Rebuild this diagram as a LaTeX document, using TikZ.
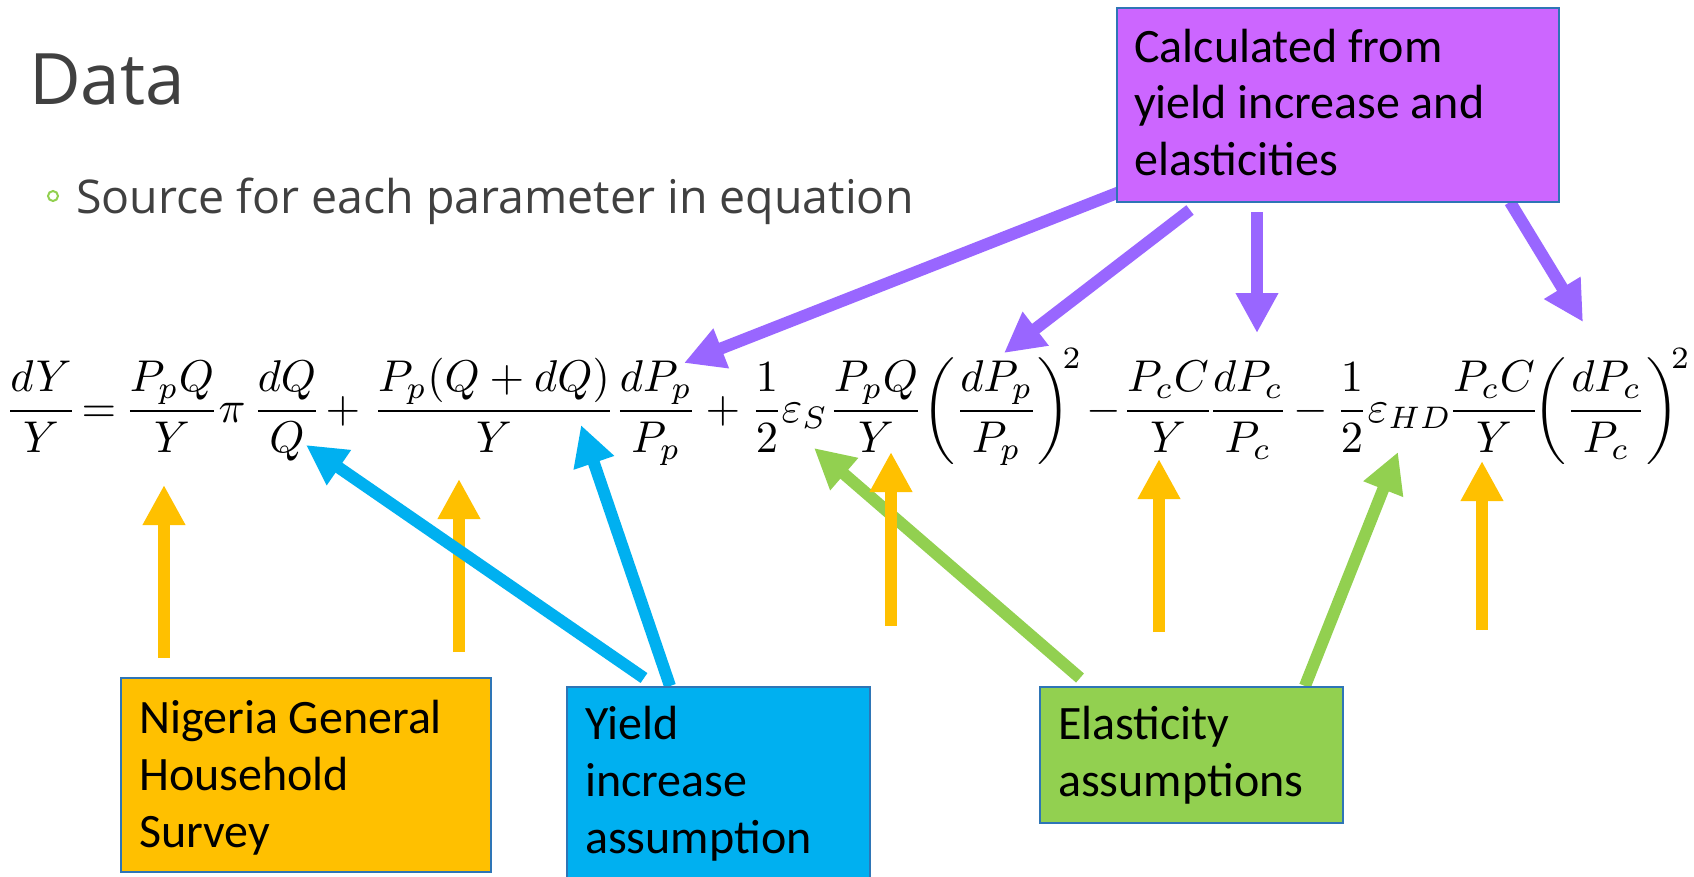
\documentclass[tikz,border=0pt]{standalone}
\usepackage{amsmath}
\usepackage{fontspec}
\newfontfamily\boxfont{Carlito}
\newfontfamily\slidefont{Open Sans}
\usetikzlibrary{arrows.meta}
\definecolor{orng}{RGB}{255,192,0}
\definecolor{cyanb}{RGB}{0,176,240}
\definecolor{grn}{RGB}{146,208,80}
\definecolor{purpfill}{RGB}{204,102,255}
\definecolor{purparr}{RGB}{153,102,255}
\definecolor{boxline}{RGB}{46,117,182}
\definecolor{slidegray}{RGB}{64,64,64}
\newcommand{\eqbig}[1]{\scalebox{4.45}{$\displaystyle #1$}}
\tikzset{
  eq/.style={anchor=base, inner sep=0pt},
  srcbox/.style={draw=boxline, line width=1.5pt, rectangle, inner sep=0pt, anchor=north west},
  boxtext/.style={anchor=base west, inner sep=0pt, font=\boxfont\fontsize{48}{57}\selectfont, text=black},
  fatarrow/.style={line width=12pt, -{Triangle[width=40pt,length=40pt]}},
}
\begin{document}
\begin{tikzpicture}[x=1pt,y=-1pt]
\useasboundingbox (0,0) rectangle (1694,876);
\fill[white] (0,0) rectangle (1694,876);

% title and bullet
\node[anchor=base west, inner sep=0pt, font=\slidefont\fontsize{71}{84}\selectfont, text=slidegray] (title) at (29,104) {Data};
\node[circle, draw=grn, line width=2pt, minimum size=10pt, inner sep=0pt] (bullet) at (53,196) {};
\node[anchor=base west, inner sep=0pt, font=\slidefont\fontsize{46.5}{56}\selectfont, text=slidegray] (subtitle) at (76,213) {Source for each parameter in equation};

% equation
\node[eq] (t0) at (41,422) {\eqbig{\frac{dY}{Y}}};
\node[eq] (eqsign) at (99,422) {\eqbig{=}};
\node[eq] (t1) at (172,422) {\eqbig{\frac{P_pQ}{Y}}};
\node[eq] (pi) at (232,422) {\eqbig{\pi}};
\node[eq] (t2) at (287,422) {\eqbig{\frac{dQ}{Q}}};
\node[eq] (plusA) at (343,422) {\eqbig{+}};
\node[eq] (t3) at (494,422) {\eqbig{\frac{P_p(Q+dQ)}{Y}}};
\node[eq] (t4) at (656,422) {\eqbig{\frac{dP_p}{P_p}}};
\node[eq] (plusB) at (723,422) {\eqbig{+}};
\node[eq] (halfA) at (767,422) {\eqbig{\frac{1}{2}}};
\node[eq] (epsS) at (805,422) {\eqbig{\varepsilon_S}};
\node[eq] (t5) at (876,422) {\eqbig{\frac{P_pQ}{Y}}};
\node[eq, anchor=base west] (t6) at (922,422) {\eqbig{\left(\frac{dP_p}{P_p}\right)^{\mkern-4mu 2}}};
\node[eq] (minusA) at (1104,422) {\eqbig{-}};
\node[eq] (t7) at (1168,422) {\eqbig{\frac{P_cC}{Y}}};
\node[eq] (t8) at (1248,422) {\eqbig{\frac{dP_c}{P_c}}};
\node[eq] (minusB) at (1311,422) {\eqbig{-}};
\node[eq] (halfB) at (1352,422) {\eqbig{\frac{1}{2}}};
\node[eq] (epsHD) at (1410,422) {\eqbig{\varepsilon_{HD}}};
\node[eq] (t9) at (1494,422) {\eqbig{\frac{P_cC}{Y}}};
\node[eq, anchor=base west] (t10) at (1533,422) {\eqbig{\left(\frac{dP_c}{P_c}\right)^{\mkern-4mu 2}}};

% arrow end points
\coordinate (a1s) at (164,658); \coordinate (a1t) at (164,485);
\coordinate (a2s) at (459,652); \coordinate (a2t) at (459,479);
\coordinate (a3s) at (891,626); \coordinate (a3t) at (891,452);
\coordinate (a4s) at (1159,632); \coordinate (a4t) at (1159,459);
\coordinate (a5s) at (1482,630); \coordinate (a5t) at (1482,461);
\coordinate (b1s) at (644,678); \coordinate (b1t) at (306,445);
\coordinate (b2s) at (670,686); \coordinate (b2t) at (581,425);
\coordinate (g1s) at (1080,678); \coordinate (g1t) at (814,448);
\coordinate (g2s) at (1305,686); \coordinate (g2t) at (1398,452);
\coordinate (p1s) at (1140,184); \coordinate (p1t) at (684,363);
\coordinate (p2s) at (1190,210); \coordinate (p2t) at (1004,353);
\coordinate (p3s) at (1257,212); \coordinate (p3t) at (1257,333);
\coordinate (p4s) at (1510,202); \coordinate (p4t) at (1583,322);

% arrows
\draw[fatarrow, draw=grn, fill=grn] (g1s) -- (g1t);
\draw[fatarrow, draw=grn, fill=grn] (g2s) -- (g2t);
\foreach \i in {1,...,5} {\draw[fatarrow, draw=orng, fill=orng] (a\i s) -- (a\i t);}
\draw[fatarrow, draw=cyanb, fill=cyanb] (b1s) -- (b1t);
\draw[fatarrow, draw=cyanb, fill=cyanb] (b2s) -- (b2t);
\foreach \i in {1,...,4} {\draw[fatarrow, draw=purparr, fill=purparr] (p\i s) -- (p\i t);}

% boxes
\node[srcbox, fill=orng, minimum width=370pt, minimum height=194pt] (survey) at (120,677) {};
\node[boxtext] (surveytext) at (139,733) {\parbox[t]{340pt}{Nigeria General\\Household\\Survey}};

\node[srcbox, fill=cyanb, minimum width=303pt, minimum height=200pt] (yield) at (566,686) {};
\node[boxtext] (yieldtext) at (585,739) {\parbox[t]{280pt}{Yield\\increase\\assumption}};

\node[srcbox, fill=grn, minimum width=303pt, minimum height=136pt] (elast) at (1039,686) {};
\node[boxtext] (elasttext) at (1058,739) {\parbox[t]{280pt}{Elasticity\\assumptions}};

\node[srcbox, fill=purpfill, minimum width=442pt, minimum height=194pt] (calc) at (1116,7) {};
\node[boxtext] (calctext) at (1134,62) {\parbox[t]{420pt}{\setlength{\baselineskip}{56.5pt}Calculated from\\yield increase and\\elasticities}};
\end{tikzpicture}
\end{document}
